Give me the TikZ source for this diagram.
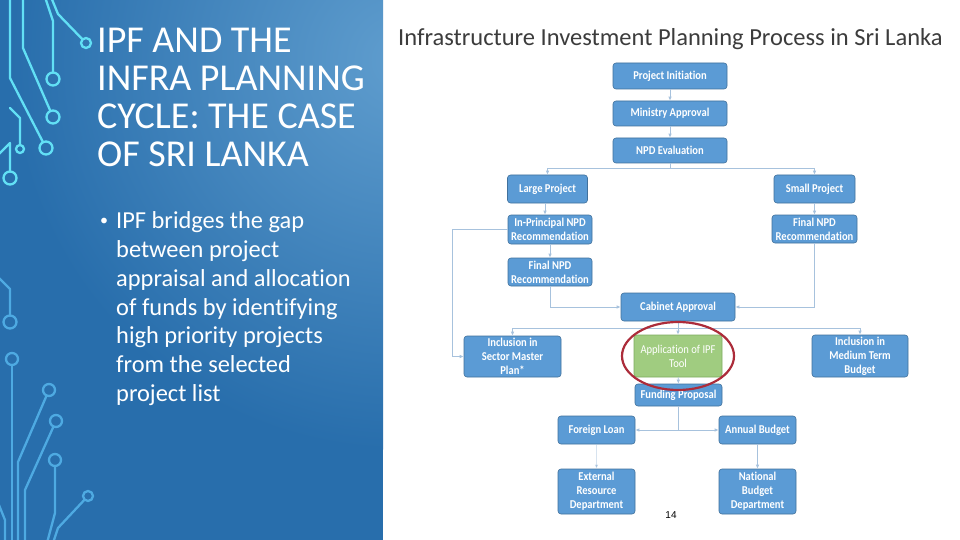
\documentclass[tikz,border=0pt]{standalone}
\usepackage{fontspec}
\setmainfont[Ligatures=NoCommon]{Carlito}
\newfontfamily\boxfont[FakeStretch=0.88, Ligatures=NoCommon]{Carlito}
\newfontfamily\numfont{Liberation Sans}
\usetikzlibrary{arrows.meta,calc}
\definecolor{panD}{RGB}{40,110,172}
\definecolor{panL}{RGB}{95,157,206}
\definecolor{cyanT}{RGB}{98,224,245}
\definecolor{blueT}{RGB}{78,170,226}
\definecolor{boxF}{RGB}{91,155,213}
\definecolor{boxD}{RGB}{65,113,156}
\definecolor{grnF}{RGB}{160,204,128}
\definecolor{grnD}{RGB}{125,172,95}
\definecolor{conn}{RGB}{167,194,221}
\definecolor{ringR}{RGB}{172,44,58}
\definecolor{ttl}{RGB}{60,60,60}
\begin{document}
\begin{tikzpicture}[x=1pt,y=-1pt,
  box/.style={draw=boxD, line width=0.6pt, fill=boxF, rounded corners=3pt, text=white,
    font=\boxfont\fontsize{12}{14}\selectfont\bfseries, align=center, inner sep=1pt},
  ipfbox/.style={box, draw=grnD, fill=grnF, font=\boxfont\fontsize{12}{14}\selectfont},
  arr/.style={draw=conn, line width=0.8pt, -{Latex[length=4pt,width=3.5pt]}},
  ln/.style={draw=conn, line width=0.8pt},
  trc/.style={line width=2.3pt, line cap=round, line join=round},
  ttlline/.style={anchor=base west, inner sep=0pt, text=white, font=\fontsize{38}{38}\selectfont},
  bodyline/.style={anchor=base west, inner sep=0pt, text=white, font=\fontsize{24.4}{28}\selectfont}
]
\useasboundingbox (0,0) rectangle (960,540);
\fill[white] (0,0) rectangle (960,540);
% left panel
\fill[panD] (0,0) rectangle (383,540);
\begin{scope}
  \clip (0,0) rectangle (383,540);
  \shade[inner color=panL, outer color=panD] (400,60) circle (390pt);
\end{scope}

% circuit traces, top
\begin{scope}[cyanT, trc]
  \draw[shorten >=6.5pt] (45,-3) -- (53,21) -- (53,79);  \draw (53,79) circle (6.5pt);
  \draw[shorten >=5pt] (51,-3) -- (58,14) -- (86,43);    \draw (86,43) circle (5pt);
  \draw[shorten >=6.5pt] (23,-3) -- (23,48) -- (53,117); \draw (53,117) circle (6.5pt);
  \draw[shorten >=6.5pt] (10,-3) -- (10,78) -- (46,148); \draw (46,148) circle (6.5pt);
  \draw[shorten >=4pt] (10,108) -- (20,118) -- (20,149); \draw (20,149) circle (4pt);
  \draw[shorten >=6.5pt] (-3,156) -- (10,143) -- (10,178); \draw (10,178) circle (6.5pt);
\end{scope}
% circuit traces, bottom
\begin{scope}[blueT, trc]
  \draw[shorten >=6.5pt] (-3,276) -- (10,289) -- (10,322); \draw (10,322) circle (6.5pt);
  \draw[shorten <=6pt] (12,359) -- (12,543); \draw (12,359) circle (6pt);
  \draw[shorten <=6pt] (49,390) -- (18,462) -- (18,543); \draw (49,390) circle (6pt);
  \draw[shorten <=6pt] (56,421) -- (25,490) -- (25,543); \draw (56,421) circle (6pt);
  \draw[shorten <=6pt] (55,460) -- (55,513) -- (47,543); \draw (55,460) circle (6pt);
  \draw[shorten <=5pt] (88,496) -- (58,528) -- (53,543); \draw (88,496) circle (5pt);
  \draw (-3,500) -- (5,520) -- (5,543);
\end{scope}

% title and bullet text
\node[ttlline] (t1) at (97,53)  {IPF AND THE};
\node[ttlline] (t2) at (97,91)  {INFRA PLANNING};
\node[ttlline] (t3) at (97,129) {CYCLE: THE CASE};
\node[ttlline] (t4) at (97,167) {OF SRI LANKA};

\node[anchor=base west, inner sep=0pt, text=white, font=\fontsize{16}{16}\selectfont] (bul) at (100,225) {•};
\node[bodyline] (b1) at (116,228) {IPF bridges the gap};
\node[bodyline] (b2) at (116,257) {between project};
\node[bodyline] (b3) at (116,286) {appraisal and allocation};
\node[bodyline] (b4) at (116,315) {of funds by identifying};
\node[bodyline] (b5) at (116,343) {high priority projects};
\node[bodyline] (b6) at (116,372) {from the selected};
\node[bodyline] (b7) at (116,401) {project list};

% right title
\node[anchor=base west, inner sep=0pt, text=ttl, font=\fontsize{24.5}{24.5}\selectfont] (rt) at (398,46)
  {Infrastructure Investment Planning Process in Sri Lanka};

% flowchart boxes
\node[box, minimum width=114pt, minimum height=26pt] (pi)  at (670,76)    {Project Initiation};
\node[box, minimum width=114pt, minimum height=25pt] (ma)  at (670,113.5) {Ministry Approval};
\node[box, minimum width=114pt, minimum height=25pt] (npd) at (670,150.5) {NPD Evaluation};
\node[box, minimum width=80pt,  minimum height=28pt] (lp)  at (547.5,189) {Large Project};
\node[box, minimum width=81pt,  minimum height=28pt] (sp)  at (814.5,189) {Small Project};
\node[box, minimum width=84pt,  minimum height=29pt] (ipr) at (550,229.5) {In-Principal NPD\\Recommendation};
\node[box, minimum width=84pt,  minimum height=28pt] (fl)  at (550,272)   {Final NPD\\Recommendation};
\node[box, minimum width=85pt,  minimum height=28pt] (fr)  at (814.5,229) {Final NPD\\Recommendation};
\node[box, minimum width=114pt, minimum height=28pt] (cab) at (678,307)   {Cabinet Approval};
\node[box, minimum width=97pt,  minimum height=41pt] (smp) at (512.5,356.5) {Inclusion in\\Sector Master\\Plan*};
\node[ipfbox, minimum width=88pt, minimum height=42pt] (ipf) at (678,356) {Application of IPF\\Tool};
\node[box, minimum width=96pt,  minimum height=42pt] (mtb) at (860,356)   {Inclusion in\\Medium Term\\Budget};
\node[box, minimum width=87pt,  minimum height=22pt] (fp)  at (678.5,395) {Funding Proposal};
\node[box, minimum width=77pt,  minimum height=28pt] (fln) at (596.5,430) {Foreign Loan};
\node[box, minimum width=77pt,  minimum height=28pt] (ab)  at (757.5,430) {Annual Budget};
\node[box, minimum width=77pt,  minimum height=45pt] (erd) at (596.5,491.5) {External\\Resource\\Department};
\node[box, minimum width=77pt,  minimum height=45pt] (nbd) at (757.5,491.5) {National\\Budget\\Department};

% junctions
\coordinate (j1) at (670,168);
\coordinate (j2) at (678,328);
\coordinate (j3) at (678.5,430);

% connectors
\draw[arr] (pi) -- (ma);
\draw[arr] (ma) -- (npd);
\draw[ln] (npd.south) -- (j1);
\draw[arr] (j1) -| (lp.north);
\draw[arr] (j1) -| (sp.north);
\draw[arr] (lp.south -| ipr.north) ++(-5,0) coordinate (lps) -- (lps |- ipr.north);
\draw[arr] (ipr) -- (fl);
\draw[arr] (sp) -- (fr);
\draw[arr] (fl.south) |- (cab.west);
\draw[arr] (fr.south) |- (cab.east);
\draw[arr] (ipr.west) -- ++(-55,0) |- (smp.west);
\draw[ln] (cab.south) -- (j2);
\draw[arr] (j2) -| (smp.north);
\draw[arr] (j2) -- (ipf.north);
\draw[arr] (j2) -| (mtb.north);
\draw[arr] (ipf) -- (fp);
\draw[ln] (fp.south) -- (j3);
\draw[arr] (j3) -- (fln.east);
\draw[arr] (j3) -- (ab.west);
\draw[arr, draw opacity=0.45] (fln) -- (erd);
\draw[arr] (ab) -- (nbd);

% highlight ring
\draw[ringR, line width=2.2pt] (ipf.center) ellipse [x radius=56pt, y radius=34pt];

% page number
\node[inner sep=0pt, font=\numfont\fontsize{10}{10}\selectfont, text=black] (pg) at (671,515) {14};
\end{tikzpicture}
\end{document}
